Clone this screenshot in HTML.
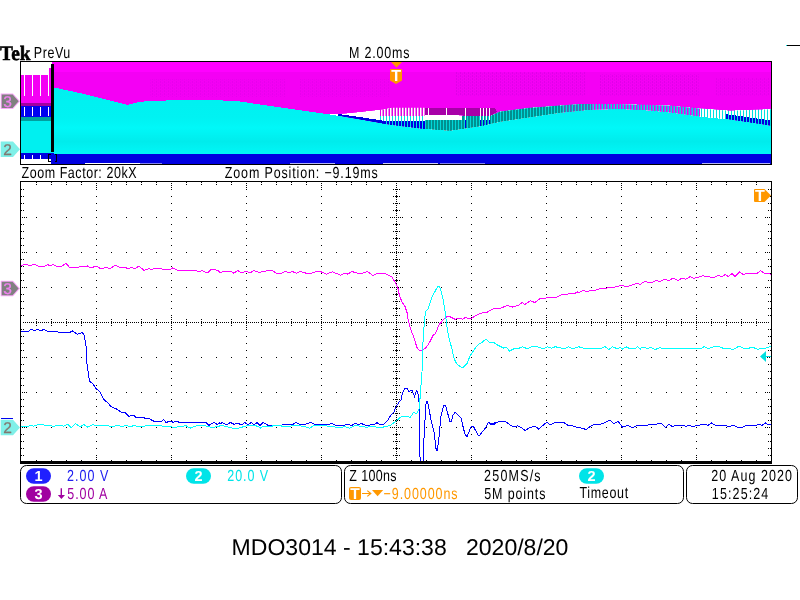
<!DOCTYPE html>
<html lang="en"><head><meta charset="utf-8"><title>MDO3014 - 15:43:38 2020/8/20</title>
<style>
html,body{margin:0;padding:0;background:#fff;}
body{width:800px;height:600px;overflow:hidden;position:relative;font-family:"Liberation Sans",sans-serif;}
svg{position:absolute;left:0;top:0;display:block;}
.sf{font-family:"Liberation Serif",serif;}
text{text-rendering:geometricPrecision;}
</style></head><body>
<svg width="800" height="600" viewBox="0 0 800 600" font-family="'Liberation Sans',sans-serif">
<rect x="0" y="0" width="800" height="600" fill="#ffffff"/>

<text class="sf" font-weight="bold" stroke="#000" stroke-width="0.55" transform="translate(-0.00,59.8) scale(0.9439,1)" font-size="20.5" fill="#000" xml:space="preserve">Tek</text>
<text letter-spacing="0.754" transform="translate(33.73,58) scale(0.7800,1)" font-size="16" fill="#000" xml:space="preserve">PreVu</text>
<text letter-spacing="1.058" transform="translate(349.02,58) scale(0.7800,1)" font-size="16" fill="#000" xml:space="preserve">M 2.00ms</text>
<rect x="787" y="45" width="13" height="1" fill="#000" shape-rendering="crispEdges"/><rect x="786" y="45" width="1" height="1" fill="#00e0e0" shape-rendering="crispEdges"/>
<defs>
<pattern id="pTeal" x="0" y="0" width="3" height="4" patternUnits="userSpaceOnUse"><rect width="3" height="4" fill="#00d8d8"/><rect width="2" height="4" fill="#009090"/></pattern>
<pattern id="pMC" x="0" y="0" width="3" height="4" patternUnits="userSpaceOnUse"><rect width="3" height="4" fill="#00e0e0"/><rect width="1.5" height="4" fill="#f000f0"/></pattern>
<pattern id="pWC" x="0" y="0" width="3" height="4" patternUnits="userSpaceOnUse"><rect width="3" height="4" fill="#00e0e0"/><rect width="2" height="4" fill="#ffffff"/></pattern>
<pattern id="pBC" x="0" y="0" width="3" height="4" patternUnits="userSpaceOnUse"><rect width="3" height="4" fill="#00e0e0"/><rect width="2" height="4" fill="#0000e0"/></pattern>
<pattern id="pWT" x="0" y="0" width="6" height="4" patternUnits="userSpaceOnUse"><rect width="6" height="4" fill="#ffffff"/><rect width="2" height="4" fill="#009090"/></pattern>
<pattern id="pWM" x="0" y="0" width="3" height="4" patternUnits="userSpaceOnUse"><rect width="3" height="4" fill="#e000e0"/><rect width="1.5" height="4" fill="#ffffff"/></pattern>
<pattern id="pWP" x="0" y="0" width="4" height="4" patternUnits="userSpaceOnUse"><rect width="4" height="4" fill="#a000a0"/><rect width="1" height="4" fill="#ffffff"/></pattern>
<pattern id="pTex" x="0" y="0" width="4" height="3" patternUnits="userSpaceOnUse"><rect width="4" height="3" fill="#f400f4"/><rect width="1" height="2" fill="#e000e8"/><rect x="2" y="1" width="1" height="2" fill="#e800f0"/></pattern>
<clipPath id="cGap"><path d="M330,114.5 L345.0,113.7 L360.0,112.2 L380.0,110.0 L392.0,107.7 L425.0,107.7 L425.0,114.0 L440.0,114.0 L465.0,116.0 L490.0,116.0 L500.0,111.5 L530.0,107.7 L560.0,105.5 L580.0,104.0 L620.0,104.0 L670.0,105.5 L700.0,108.5 L730.0,110.7 L771.0,109.2 L771.0,126.0 L760.0,124.2 L730.0,119.7 L700.0,116.7 L670.0,112.7 L650.0,110.7 L620.0,109.2 L590.0,110.0 L560.0,113.0 L530.0,117.5 L500.0,122.0 L480.0,126.5 L450.0,131.0 L420.0,128.7 L390.0,125.0 L360.0,119.7 Z"/></clipPath>
<linearGradient id="gC" x1="0" y1="0" x2="0" y2="1"><stop offset="0" stop-color="#00f0f0"/><stop offset="0.45" stop-color="#00f2f2"/><stop offset="0.6" stop-color="#00f8f8"/><stop offset="0.8" stop-color="#00ecec"/><stop offset="1" stop-color="#00f8f8"/></linearGradient>
</defs>
<g shape-rendering="crispEdges">
<rect x="21" y="62" width="750" height="102" fill="#ffffff"/>
<path d="M54,62 L771,62 L771.0,109.2 L730.0,110.7 L700.0,108.5 L670.0,105.5 L620.0,104.0 L580.0,104.0 L560.0,105.5 L530.0,107.7 L500.0,111.5 L490.0,116.0 L465.0,116.0 L440.0,114.0 L425.0,114.0 L425.0,107.7 L392.0,107.7 L380.0,110.0 L360.0,112.2 L345.0,113.7 L330.0,114.5 L320.0,113.0 L270.0,106.0 L240.0,101.5 L215.0,100.0 L177.5,100.0 L140.0,101.7 L127.5,105.0 L102.5,98.7 L77.5,92.5 L54.0,87.5 Z" fill="#f400f4"/>
<rect x="54" y="62" width="717" height="10" fill="#ff00ff"/>
<rect x="150" y="79" width="135" height="18" fill="url(#pTex)" opacity="0.6"/>
<rect x="300" y="79" width="90" height="18" fill="url(#pTex)" opacity="0.6"/>
<rect x="455" y="72" width="130" height="24" fill="url(#pTex)"/>
<rect x="600" y="74" width="100" height="22" fill="url(#pTex)"/>
<rect x="715" y="78" width="55" height="18" fill="url(#pTex)" opacity="0.7"/>
<g clip-path="url(#cGap)">
<rect x="330" y="100" width="50" height="35" fill="#ffffff"/>
<rect x="380" y="100" width="45" height="16" fill="url(#pWM)"/>
<rect x="380" y="116" width="45" height="5" fill="url(#pWC)"/>
<rect x="380" y="121" width="45" height="14" fill="url(#pBC)"/>
<rect x="425" y="100" width="37" height="21" fill="#ffffff"/>
<rect x="425" y="120" width="37" height="15" fill="url(#pTeal)"/>
<rect x="462" y="100" width="100" height="35" fill="url(#pTeal)"/>
<rect x="562" y="100" width="138" height="35" fill="url(#pMC)"/>
<rect x="562" y="100" width="30" height="35" fill="url(#pTeal)" opacity="0.6"/>
<rect x="700" y="100" width="71" height="35" fill="url(#pWC)"/>
<path d="M338,114 L360,117 L385,121 L385,125 L360,120 L338,116 Z" fill="#0000e0"/>
<path d="M725,114 L771,120.5 L771,127 L725,119.5 Z" fill="url(#pBC)"/>
<rect x="465" y="108" width="1" height="12" fill="#fff"/><rect x="465" y="120" width="1" height="8" fill="#0000e0"/>
<rect x="480" y="108" width="1" height="12" fill="#fff"/><rect x="480" y="120" width="1" height="8" fill="#0000e0"/>
<rect x="483" y="108" width="1" height="12" fill="#fff"/><rect x="483" y="120" width="1" height="8" fill="#0000e0"/>
<rect x="486" y="108" width="1" height="12" fill="#fff"/><rect x="486" y="120" width="1" height="8" fill="#0000e0"/>
<rect x="489" y="108" width="1" height="12" fill="#fff"/><rect x="489" y="120" width="1" height="8" fill="#0000e0"/>
</g>
<path d="M425,107.7 L495,107.7 L497,112 L490,116 L465,116 L460,114.5 L425,114.5 Z" fill="#a800a8"/>
<rect x="428" y="108" width="1" height="8" fill="#fff"/>
<rect x="446" y="108" width="1" height="8" fill="#fff"/>
<rect x="465" y="108" width="1" height="8" fill="#fff"/>
<rect x="480" y="108" width="1" height="8" fill="#fff"/>
<rect x="483" y="108" width="1" height="8" fill="#fff"/>
<rect x="486" y="108" width="1" height="8" fill="#fff"/>
<rect x="489" y="108" width="1" height="8" fill="#fff"/>
</g>
<path d="M54,155 L54.0,87.5 L77.5,92.5 L102.5,98.7 L127.5,105.0 L140.0,101.7 L177.5,100.0 L215.0,100.0 L240.0,101.5 L270.0,106.0 L320.0,113.0 L330.0,114.5 L360.0,119.7 L390.0,125.0 L420.0,128.7 L450.0,131.0 L480.0,126.5 L500.0,122.0 L530.0,117.5 L560.0,113.0 L590.0,110.0 L620.0,109.2 L650.0,110.7 L670.0,112.7 L700.0,116.7 L730.0,119.7 L760.0,124.2 L771.0,126.0 L771,155 Z" fill="url(#gC)" shape-rendering="crispEdges"/>
<g shape-rendering="crispEdges">
<rect x="54" y="154" width="717" height="10" fill="#0000e0"/>
<rect x="51" y="153" width="3" height="11" fill="#0000e0"/>
<rect x="85" y="163" width="55" height="1" fill="#fff"/>
<rect x="140" y="163" width="22" height="1" fill="#fff" opacity="0.5"/>
<rect x="290" y="163" width="45" height="1" fill="#fff" opacity="0.7"/>
<rect x="383" y="163" width="55" height="1" fill="#fff" opacity="0.8"/>
<rect x="440" y="163" width="45" height="1" fill="#fff" opacity="0.5"/>
<rect x="702" y="163" width="68" height="1" fill="#fff" opacity="0.7"/>
<rect x="21" y="75" width="30" height="28" fill="#f400f4"/>
<rect x="21" y="103" width="30" height="3" fill="#a000a0"/>
<rect x="21" y="106" width="30" height="11" fill="#0000f0"/>
<rect x="21" y="117" width="30" height="4" fill="#00a0a0"/>
<rect x="21" y="121" width="30" height="32" fill="#00f0f0"/>
<rect x="21" y="153" width="30" height="6" fill="#0000e0"/>
<rect x="24" y="75" width="1" height="21" fill="#fff"/>
<rect x="24" y="107" width="1" height="9" fill="#fff"/>
<rect x="24" y="155" width="1" height="4" fill="#fff"/>
<rect x="32" y="75" width="1" height="21" fill="#fff"/>
<rect x="32" y="107" width="1" height="9" fill="#fff"/>
<rect x="32" y="155" width="1" height="4" fill="#fff"/>
<rect x="40" y="75" width="1" height="21" fill="#fff"/>
<rect x="40" y="107" width="1" height="9" fill="#fff"/>
<rect x="40" y="155" width="1" height="4" fill="#fff"/>
<rect x="48" y="75" width="1" height="21" fill="#fff"/>
<rect x="48" y="107" width="1" height="9" fill="#fff"/>
<rect x="48" y="155" width="1" height="4" fill="#fff"/>
<rect x="49" y="68" width="2" height="8" fill="#f400f4"/>
<rect x="52" y="62" width="2" height="2" fill="#ff00ff"/>
<rect x="51" y="64" width="3" height="88" fill="#000"/>
<rect x="51" y="152" width="3" height="1" fill="#00f0f0"/>
<path d="M50.5,154.5 H48.5 V161.5 H50.5 M54.5,154.5 H56.5 V161.5 H54.5" fill="none" stroke="#000" stroke-width="1"/>
<rect x="20.5" y="61.5" width="751" height="103" fill="none" stroke="#000" stroke-width="1"/>
</g>
<path d="M391,62 L402,62 L396.5,67.5 Z" fill="#ff9800"/>
<path d="M390,70 Q390,69 391,69 L401,69 Q402,69 402,70 L402,80.5 L396,84 L390,80.5 Z" fill="#ff9800"/>
<text x="396.1" y="80.8" text-anchor="middle" font-size="16" font-weight="bold" fill="#fff">T</text>
<text letter-spacing="0.714" transform="translate(21.51,178) scale(0.7800,1)" font-size="16" fill="#000" xml:space="preserve">Zoom Factor: 20kX</text>
<text letter-spacing="1.103" transform="translate(224.81,178) scale(0.7800,1)" font-size="16" fill="#000" xml:space="preserve">Zoom Position: −9.19ms</text>
<g shape-rendering="crispEdges" stroke="#000" stroke-width="1" fill="none">
<path d="M36,217.5h721M36,252.5h721M36,287.5h721M36,357.5h721M36,392.5h721M36,427.5h721" stroke-dasharray="1 14"/>
<path d="M96.5,189v267M171.5,189v267M246.5,189v267M321.5,189v267M471.5,189v267M546.5,189v267M621.5,189v267M696.5,189v267" stroke-dasharray="1 6"/>
<path d="M23,322.5h748" stroke-dasharray="1 1 1 1 1 1 1 1 1 1 1 4"/>
<path d="M396.5,183v277" stroke-dasharray="1 1"/>
<path d="M36.5,319v7M51.5,319v7M66.5,319v7M81.5,319v7M111.5,319v7M126.5,319v7M141.5,319v7M156.5,319v7M186.5,319v7M201.5,319v7M216.5,319v7M231.5,319v7M261.5,319v7M276.5,319v7M291.5,319v7M306.5,319v7M336.5,319v7M351.5,319v7M366.5,319v7M381.5,319v7M411.5,319v7M426.5,319v7M441.5,319v7M456.5,319v7M486.5,319v7M501.5,319v7M516.5,319v7M531.5,319v7M561.5,319v7M576.5,319v7M591.5,319v7M606.5,319v7M636.5,319v7M651.5,319v7M666.5,319v7M681.5,319v7M711.5,319v7M726.5,319v7M741.5,319v7M756.5,319v7" stroke-dasharray="1 1 3 1 1"/>
<path d="M96.5,317v11M171.5,317v11M246.5,317v11M321.5,317v11M396.5,317v11M471.5,317v11M546.5,317v11M621.5,317v11M696.5,317v11" stroke-dasharray="1 1 1 1 3 1 1 1 1"/>
<path d="M393,189.5h7M393,196.5h7M393,203.5h7M393,210.5h7M393,224.5h7M393,231.5h7M393,238.5h7M393,245.5h7M393,259.5h7M393,266.5h7M393,273.5h7M393,280.5h7M393,294.5h7M393,301.5h7M393,308.5h7M393,315.5h7M393,329.5h7M393,336.5h7M393,343.5h7M393,350.5h7M393,364.5h7M393,371.5h7M393,378.5h7M393,385.5h7M393,399.5h7M393,406.5h7M393,413.5h7M393,420.5h7M393,434.5h7M393,441.5h7M393,448.5h7M393,455.5h7" stroke-dasharray="1 1 3 1 1"/>
<path d="M390,217.5h13M390,252.5h13M390,287.5h13M390,357.5h13M390,392.5h13M390,427.5h13" stroke-dasharray="1 1"/>
<path d="M21,189.5h3M21,196.5h3M21,203.5h3M21,210.5h3M21,224.5h3M21,231.5h3M21,238.5h3M21,245.5h3M21,259.5h3M21,266.5h3M21,273.5h3M21,280.5h3M21,294.5h3M21,301.5h3M21,308.5h3M21,315.5h3M21,329.5h3M21,336.5h3M21,343.5h3M21,350.5h3M21,364.5h3M21,371.5h3M21,378.5h3M21,385.5h3M21,399.5h3M21,406.5h3M21,413.5h3M21,420.5h3M21,434.5h3M21,441.5h3M21,448.5h3M21,455.5h3M768,189.5h3M768,196.5h3M768,203.5h3M768,210.5h3M768,224.5h3M768,231.5h3M768,238.5h3M768,245.5h3M768,259.5h3M768,266.5h3M768,273.5h3M768,280.5h3M768,294.5h3M768,301.5h3M768,308.5h3M768,315.5h3M768,329.5h3M768,336.5h3M768,343.5h3M768,350.5h3M768,364.5h3M768,371.5h3M768,378.5h3M768,385.5h3M768,399.5h3M768,406.5h3M768,413.5h3M768,420.5h3M768,434.5h3M768,441.5h3M768,448.5h3M768,455.5h3" stroke-dasharray="1 1"/>
<path d="M22,217.5h5M22,252.5h5M22,287.5h5M22,357.5h5M22,392.5h5M22,427.5h5M765,217.5h5M765,252.5h5M765,287.5h5M765,357.5h5M765,392.5h5M765,427.5h5" stroke-dasharray="1 1"/>
<path d="M36.5,182v3M51.5,182v3M66.5,182v3M81.5,182v3M111.5,182v3M126.5,182v3M141.5,182v3M156.5,182v3M186.5,182v3M201.5,182v3M216.5,182v3M231.5,182v3M261.5,182v3M276.5,182v3M291.5,182v3M306.5,182v3M336.5,182v3M351.5,182v3M366.5,182v3M381.5,182v3M411.5,182v3M426.5,182v3M441.5,182v3M456.5,182v3M486.5,182v3M501.5,182v3M516.5,182v3M531.5,182v3M561.5,182v3M576.5,182v3M591.5,182v3M606.5,182v3M636.5,182v3M651.5,182v3M666.5,182v3M681.5,182v3M711.5,182v3M726.5,182v3M741.5,182v3M756.5,182v3M36.5,460v1M51.5,460v1M66.5,460v1M81.5,460v1M111.5,460v1M126.5,460v1M141.5,460v1M156.5,460v1M186.5,460v1M201.5,460v1M216.5,460v1M231.5,460v1M261.5,460v1M276.5,460v1M291.5,460v1M306.5,460v1M336.5,460v1M351.5,460v1M366.5,460v1M381.5,460v1M411.5,460v1M426.5,460v1M441.5,460v1M456.5,460v1M486.5,460v1M501.5,460v1M516.5,460v1M531.5,460v1M561.5,460v1M576.5,460v1M591.5,460v1M606.5,460v1M636.5,460v1M651.5,460v1M666.5,460v1M681.5,460v1M711.5,460v1M726.5,460v1M741.5,460v1M756.5,460v1" stroke-dasharray="1 1"/>
<path d="M96.5,183v5M171.5,183v5M246.5,183v5M321.5,183v5M396.5,183v5M471.5,183v5M546.5,183v5M621.5,183v5M696.5,183v5M96.5,455v5M171.5,455v5M246.5,455v5M321.5,455v5M396.5,455v5M471.5,455v5M546.5,455v5M621.5,455v5M696.5,455v5" stroke-dasharray="1 1"/>
</g>
<polyline points="21.2,331.0 28.8,331.0 31.2,329.0 34.2,331.0 37.5,329.2 40.8,331.0 43.8,329.2 47.5,331.2 57.5,332.0 68.8,332.8 72.5,331.0 77.5,334.2 82.5,332.5 84.5,336.2 86.2,347.5 86.8,362.5 88.2,372.5 89.5,381.2 93.0,383.8 96.2,388.8 99.5,391.2 103.8,399.5 107.5,402.5 111.2,406.8 116.2,408.8 121.2,412.0 125.0,412.5 128.8,416.2 133.8,415.5 136.8,418.0 140.0,417.5 148.8,418.5 153.8,421.2 161.2,422.0 163.8,419.5 165.8,422.5 171.2,421.0 173.0,422.5 176.2,421.2 181.2,423.0 206.2,422.8 208.8,425.5 213.8,422.5 217.5,424.5 219.5,423.0 220.0,423.8 222.5,422.5 226.2,425.0 230.5,422.5 233.8,424.2 238.8,423.5 241.2,425.0 245.0,422.5 248.0,425.0 251.2,422.5 253.8,425.0 257.0,422.5 260.0,425.5 263.0,422.5 267.5,425.0 272.5,425.0 280.0,425.5 283.8,424.5 292.5,424.5 296.2,422.5 300.0,424.5 305.0,424.5 310.5,422.5 315.0,424.5 328.8,424.5 331.2,423.2 335.0,425.0 345.0,425.0 348.8,424.5 351.2,425.8 355.0,423.5 358.8,424.5 361.2,423.5 365.0,425.0 370.0,425.0 372.5,424.2 375.0,424.2 377.0,422.5 380.0,425.0 383.8,424.2 387.5,420.5 389.8,416.8 394.2,411.5 395.8,407.0 398.8,402.5 401.0,400.2 402.5,392.8 404.8,388.2 407.4,388.2 408.5,391.2 412.2,390.8 414.5,396.5 416.8,390.2 418.2,395.0 419.3,405.0 419.8,450.0 420.2,462.8 423.4,462.8 423.5,447.0 424.6,427.5 425.8,405.0 426.9,401.2 428.3,405.0 431.0,420.0 434.0,432.0 436.2,450.0 437.4,450.0 439.2,435.0 440.8,417.0 443.8,405.3 445.6,405.3 447.5,412.5 449.8,421.5 451.2,421.5 453.1,414.8 455.4,412.2 458.0,414.8 461.3,418.2 463.2,427.5 465.2,435.0 467.0,436.5 469.2,431.2 471.2,426.8 473.3,426.3 476.0,431.2 478.2,435.0 479.8,435.0 482.8,431.2 485.8,427.5 488.3,422.2 491.8,424.5 494.0,424.5 497.0,422.2 490.0,424.5 495.0,423.0 500.0,421.2 505.0,421.2 510.0,425.0 513.8,426.8 517.5,425.8 521.2,427.5 525.0,430.5 530.0,427.5 535.0,426.0 538.8,429.2 542.5,425.8 547.0,422.0 550.0,425.0 555.0,422.5 563.8,422.5 567.5,425.0 572.5,425.8 576.2,427.0 581.2,428.0 586.2,429.5 591.2,425.8 596.2,424.0 601.2,424.0 606.2,422.0 610.0,420.0 613.8,423.8 618.0,421.2 622.5,427.0 627.5,425.5 632.5,427.5 637.5,425.5 640.0,425.6 648.0,425.0 656.0,424.4 661.0,423.0 665.6,427.4 669.0,424.4 672.0,426.4 677.0,425.4 683.0,425.4 686.0,426.4 689.0,425.4 693.0,426.4 698.0,425.4 704.0,424.0 708.0,425.4 711.6,423.0 715.0,425.0 724.0,425.4 729.0,426.4 734.0,425.4 738.0,427.4 742.0,427.4 746.0,425.4 756.0,425.4 759.0,424.0 762.0,425.4 765.6,423.0 768.0,424.4 771.0,424.4" fill="none" stroke="#0000ff" stroke-width="1" shape-rendering="crispEdges"/>
<polyline points="21.2,265.5 26.2,264.2 30.0,265.8 33.8,264.2 38.8,266.2 45.0,266.0 47.5,264.5 50.0,265.8 53.2,264.5 57.5,267.0 62.5,266.0 65.8,263.2 69.2,267.0 78.8,267.0 81.2,266.0 83.8,267.0 87.5,266.0 90.8,268.0 96.2,266.0 101.2,269.0 106.2,267.0 110.0,269.0 115.0,265.0 118.8,267.0 125.0,267.0 128.2,269.0 131.2,267.0 135.0,269.0 138.8,266.0 144.2,270.5 148.8,268.5 151.2,269.5 155.0,268.5 160.0,268.5 165.0,270.0 170.0,269.5 172.5,268.0 177.0,270.0 195.0,270.0 198.8,271.8 202.5,270.5 207.0,273.2 211.2,269.5 216.2,270.0 219.5,271.5 220.0,272.5 225.0,271.2 231.2,271.5 233.8,273.2 237.5,270.5 241.2,272.5 246.2,271.5 250.5,272.5 254.2,270.5 258.8,272.5 268.8,270.5 272.5,270.8 276.2,273.2 281.2,273.2 285.5,271.5 288.8,272.5 292.5,271.5 296.2,273.2 300.5,271.5 306.2,273.2 311.2,273.2 316.2,271.5 321.2,271.8 326.2,274.2 332.5,271.8 340.5,275.2 345.0,273.2 348.0,274.2 351.8,271.5 357.5,273.2 362.5,273.2 367.5,271.5 373.0,275.5 377.5,273.2 382.5,273.2 385.2,273.5 392.0,277.2 395.8,283.2 398.0,288.5 399.5,296.0 402.5,302.8 404.8,305.8 407.0,312.5 408.5,321.5 410.8,329.8 413.0,335.0 416.8,347.0 417.5,348.8 419.8,350.4 422.8,350.4 426.5,347.0 429.5,342.5 433.2,335.0 435.5,333.5 439.2,324.5 443.0,320.0 446.8,316.7 449.8,316.7 455.0,319.2 459.5,318.2 462.5,319.2 465.5,317.4 468.5,318.5 471.5,318.2 476.0,315.5 482.8,312.5 487.2,312.2 491.0,309.9 494.8,308.4 495.0,308.5 501.2,308.0 507.0,305.5 512.5,307.0 518.8,305.0 522.0,302.5 525.0,304.5 530.0,300.8 535.0,302.5 540.0,298.5 546.2,298.0 557.5,297.0 562.5,294.2 573.8,293.8 577.5,292.0 578.8,293.0 582.5,290.5 586.2,291.2 595.0,290.5 600.0,288.5 607.5,288.0 615.0,287.0 621.2,285.5 626.2,286.5 631.2,285.5 636.2,283.5 641.2,284.5 640.0,284.4 645.0,281.4 651.0,283.0 656.0,280.6 660.0,281.4 664.0,279.6 669.0,280.4 673.0,278.2 678.0,280.4 682.0,278.2 686.0,279.2 690.0,276.6 693.0,278.2 698.0,277.6 702.6,275.6 706.0,276.6 714.0,277.4 718.0,275.6 722.0,276.6 725.6,274.4 728.4,276.8 732.0,273.4 735.0,276.6 739.4,272.0 743.0,274.4 748.0,273.4 757.0,273.4 760.6,270.6 764.4,273.4 769.0,273.4 771.0,274.4" fill="none" stroke="#ff00ff" stroke-width="1" shape-rendering="crispEdges"/>
<polyline points="21.2,426.2 26.2,427.0 31.2,425.2 33.8,426.2 38.8,424.5 46.2,425.2 53.8,426.2 60.0,425.2 63.8,426.2 67.5,424.2 71.2,427.5 75.5,423.5 80.0,427.0 83.8,424.5 87.5,427.0 92.5,424.8 97.5,425.5 107.5,425.5 111.2,427.0 117.5,425.5 122.5,426.5 126.2,425.0 130.0,427.0 133.8,425.5 140.0,427.0 147.5,425.5 160.0,425.5 166.2,427.0 170.0,426.2 173.8,427.5 180.0,426.5 186.2,425.8 190.0,428.2 197.5,425.5 203.8,425.5 207.5,426.5 212.5,427.5 219.5,426.2 220.0,425.0 225.0,426.2 232.5,428.2 238.8,428.2 245.0,426.2 251.2,425.0 257.5,426.2 260.5,428.0 263.8,426.2 270.0,427.0 273.8,425.5 280.0,425.5 283.8,426.8 292.5,425.8 300.0,425.8 306.2,427.0 310.0,428.2 313.8,425.5 320.0,425.5 330.0,426.2 337.5,427.5 345.0,426.8 350.0,428.2 355.0,425.5 360.0,426.2 366.2,427.2 372.5,426.5 380.0,427.5 385.0,426.8 390.0,425.5 395.0,422.0 401.0,416.8 407.0,416.0 410.0,417.5 413.8,412.2 416.8,413.8 419.3,408.5 420.8,387.5 422.0,372.5 422.4,350.0 423.5,335.0 423.5,332.0 425.4,311.8 428.0,308.8 431.8,297.5 437.8,286.2 439.2,286.7 440.8,290.0 443.3,299.8 445.2,312.5 446.8,326.0 449.0,338.0 451.2,347.0 451.2,345.5 454.2,359.0 456.5,363.5 461.0,367.2 463.2,367.2 467.0,363.5 470.0,356.0 476.0,347.0 479.0,344.0 482.0,342.5 485.8,339.1 489.5,342.2 494.0,342.5 497.0,344.8 500.0,346.2 503.8,348.2 506.2,347.0 509.5,351.2 513.8,348.8 517.5,348.8 522.5,346.8 527.5,348.8 531.2,346.8 537.5,346.8 543.8,348.8 547.5,346.8 551.2,348.2 555.0,346.8 560.0,347.5 563.8,349.0 568.8,346.8 572.5,348.8 578.8,346.8 585.0,348.5 601.2,348.5 605.0,346.5 608.8,349.5 612.5,346.8 617.5,348.8 620.0,347.5 622.5,349.0 626.2,346.8 630.0,348.8 635.0,348.8 637.5,346.8 640.0,348.8 640.0,348.4 644.0,347.0 647.0,348.6 651.0,347.4 655.0,349.6 660.0,347.6 662.0,348.6 701.0,348.6 704.0,346.6 708.0,348.6 714.0,346.6 719.0,346.6 724.0,348.6 734.0,349.2 739.0,346.0 744.0,348.6 748.0,348.6 752.0,347.0 758.0,349.4 761.0,348.0 764.0,348.6 768.0,347.6 771.0,346.0" fill="none" stroke="#00ffff" stroke-width="1" shape-rendering="crispEdges"/>
<g shape-rendering="crispEdges">
<rect x="20" y="181" width="752" height="1" fill="#000"/>
<rect x="20" y="181" width="1" height="283" fill="#000"/>
<rect x="771" y="181" width="1" height="283" fill="#000"/>
<rect x="20" y="461" width="752" height="3" fill="#000"/>
</g>
<path d="M754,190 Q754,189 755,189 L764.5,189 L771,195.5 L764.5,202 L755,202 Q754,202 754,201 Z" fill="#ff9800"/>
<text x="760" y="201" text-anchor="middle" font-size="16" font-weight="bold" fill="#fff">T</text>
<path d="M760,356.5 L766,351 L766,362 Z" fill="#00e0e0"/><rect x="766" y="356" width="5" height="1" fill="#00e0e0" shape-rendering="crispEdges"/>
<path d="M0.7,93.5 L13,93.5 L20,101.3 L13,109.1 L0.7,109.1 Z" fill="#f8a8f8"/><path d="M1.7,94.5 L12.6,94.5 L18.6,101.3 L12.6,108.1 L1.7,108.1 Z" fill="#808080"/><text x="7.6" y="106.7" text-anchor="middle" font-size="15.5" fill="#f080f0" stroke="#f080f0" stroke-width="0.3">3</text>
<path d="M0.7,141.5 L13,141.5 L20,149.3 L13,157.1 L0.7,157.1 Z" fill="#80f0e8"/><path d="M1.7,142.5 L12.6,142.5 L18.6,149.3 L12.6,156.1 L1.7,156.1 Z" fill="#80f0e8"/><text x="7.6" y="154.7" text-anchor="middle" font-size="15.5" fill="#807870" stroke="#807870" stroke-width="0.3">2</text>
<path d="M0.7,280.7 L13,280.7 L20,288.5 L13,296.3 L0.7,296.3 Z" fill="#f8a8f8"/><path d="M1.7,281.7 L12.6,281.7 L18.6,288.5 L12.6,295.3 L1.7,295.3 Z" fill="#808080"/><text x="7.6" y="293.9" text-anchor="middle" font-size="15.5" fill="#f080f0" stroke="#f080f0" stroke-width="0.3">3</text>
<path d="M0.7,419.7 L13,419.7 L20,427.5 L13,435.3 L0.7,435.3 Z" fill="#80f0e8"/><path d="M1.7,420.7 L12.6,420.7 L18.6,427.5 L12.6,434.3 L1.7,434.3 Z" fill="#80f0e8"/><text x="7.6" y="432.9" text-anchor="middle" font-size="15.5" fill="#807870" stroke="#807870" stroke-width="0.3">2</text><rect x="1" y="418.2" width="12" height="1" fill="#0000f0" shape-rendering="crispEdges"/>
<g fill="#fff" stroke="#000" stroke-width="1">
<rect x="20.5" y="465.5" width="321" height="38" rx="6" ry="6"/>
<rect x="344.5" y="465.5" width="339" height="38" rx="6" ry="6"/>
<rect x="686.5" y="465.5" width="111" height="38" rx="6" ry="6"/>
</g>
<rect x="26" y="468.2" width="25" height="15.5" rx="7.75" ry="7.75" fill="#2020ff"/><text x="38.5" y="481.0" text-anchor="middle" font-size="14.5" font-weight="bold" fill="#fff">1</text>
<rect x="26" y="486.2" width="25" height="15.5" rx="7.75" ry="7.75" fill="#a000a0"/><text x="38.5" y="499.0" text-anchor="middle" font-size="14.5" font-weight="bold" fill="#fff">3</text>
<rect x="186" y="468.2" width="25" height="15.5" rx="7.75" ry="7.75" fill="#00e4e8"/><text x="198.5" y="481.0" text-anchor="middle" font-size="14.5" font-weight="bold" fill="#fff">2</text>
<rect x="579" y="468.2" width="25" height="15.5" rx="7.75" ry="7.75" fill="#00e4e8"/><text x="591.5" y="481.0" text-anchor="middle" font-size="14.5" font-weight="bold" fill="#fff">2</text>
<text letter-spacing="1.293" transform="translate(67.12,481) scale(0.7800,1)" font-size="16" fill="#2020f0" xml:space="preserve">2.00 V</text>
<path d="M60.6,488.3 H62 V495 H65 L61.4,499 L57.8,495 H60.6 Z" fill="#a000a0"/>
<text letter-spacing="1.166" transform="translate(67.31,499) scale(0.7800,1)" font-size="16" fill="#a000a0" xml:space="preserve">5.00 A</text>
<text letter-spacing="1.216" transform="translate(227.31,481) scale(0.7800,1)" font-size="16" fill="#00e4e8" xml:space="preserve">20.0 V</text>
<text letter-spacing="0.467" transform="translate(349.31,481) scale(0.7800,1)" font-size="16" fill="#000" xml:space="preserve">Z 100ns</text>
<rect x="349" y="487" width="12" height="13" rx="2" ry="2" fill="#ff9800"/>
<text x="355.1" y="498.9" text-anchor="middle" font-size="15.5" font-weight="bold" fill="#fff">T</text>
<path d="M362,493.5 H370.5 M367.3,490.6 L370.8,493.5 L367.3,496.4" fill="none" stroke="#ff9800" stroke-width="1.2"/>
<path d="M372,490 L383.2,490 L377.6,496.3 Z" fill="#ff9800"/>
<text letter-spacing="1.196" transform="translate(383.62,499) scale(0.7800,1)" font-size="16" fill="#ff9800" xml:space="preserve">−9.00000ns</text>
<text letter-spacing="1.544" transform="translate(484.12,481) scale(0.7800,1)" font-size="16" fill="#000" xml:space="preserve">250MS/s</text>
<text letter-spacing="1.118" transform="translate(484.31,499) scale(0.7800,1)" font-size="16" fill="#000" xml:space="preserve">5M points</text>
<text letter-spacing="0.862" transform="translate(579.50,498) scale(0.7800,1)" font-size="16" fill="#000" xml:space="preserve">Timeout</text>
<text letter-spacing="1.360" transform="translate(711.21,481) scale(0.7800,1)" font-size="16" fill="#000" xml:space="preserve">20 Aug 2020</text>
<text letter-spacing="1.449" transform="translate(711.82,499) scale(0.7800,1)" font-size="16" fill="#000" xml:space="preserve">15:25:24</text>
<text transform="translate(231.60,555) scale(1.0064,1)" font-size="22.9" fill="#000" xml:space="preserve">MDO3014 - 15:43:38   2020/8/20</text>
</svg>
</body></html>
